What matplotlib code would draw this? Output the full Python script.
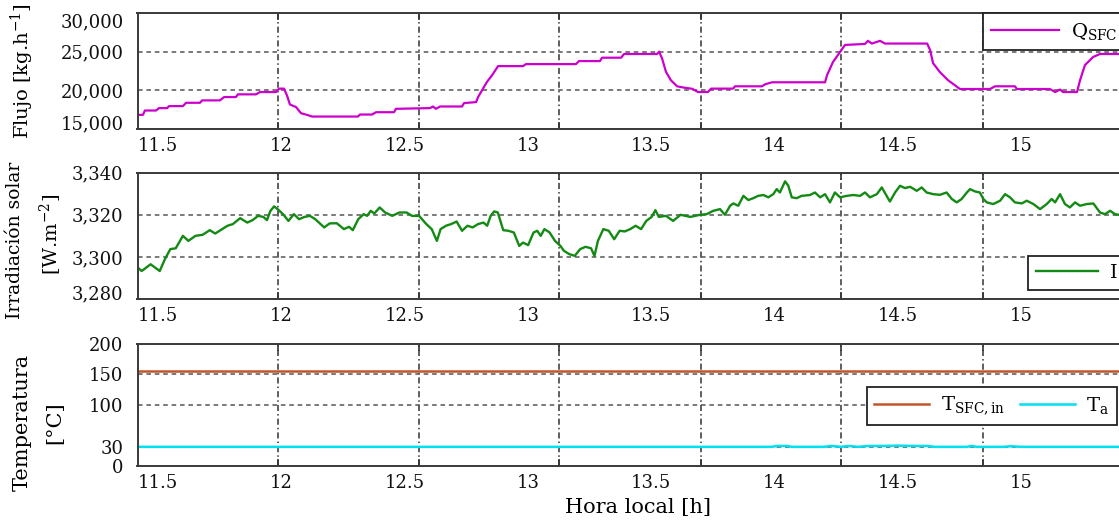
import matplotlib.pyplot as plt
from matplotlib.ticker import FixedLocator, FixedFormatter, NullFormatter
from matplotlib.transforms import ScaledTranslation

plt.rcParams['font.family'] = 'DejaVu Serif'
plt.rcParams['mathtext.fontset'] = 'dejavuserif'

# ==========================
# DATOS
# ==========================

# Flujo del campo solar Q_SFC [kg/h]
q_hora = [11.415, 11.439, 11.447, 11.492, 11.504, 11.537, 11.545, 11.601, 11.614, 11.670,
          11.679, 11.751, 11.768, 11.816, 11.824, 11.897, 11.914, 11.979, 11.991, 12.011,
          12.023, 12.035, 12.060, 12.080, 12.104, 12.125, 12.311, 12.319, 12.368, 12.384,
          12.457, 12.465, 12.603, 12.615, 12.627, 12.644, 12.733, 12.741, 12.790, 12.798,
          12.814, 12.834, 12.855, 12.879, 12.980, 12.992, 13.195, 13.207, 13.292, 13.301,
          13.378, 13.390, 13.524, 13.532, 13.544, 13.560, 13.580, 13.605, 13.633, 13.666,
          13.690, 13.730, 13.743, 13.832, 13.840, 13.949, 13.962, 13.990, 14.205, 14.213,
          14.237, 14.266, 14.286, 14.367, 14.379, 14.395, 14.428, 14.448, 14.619, 14.631,
          14.643, 14.671, 14.704, 14.732, 14.752, 14.874, 14.894, 14.975, 14.983, 15.117,
          15.138, 15.158, 15.170, 15.227, 15.239, 15.259, 15.292, 15.320, 15.421]
q_flujo = [16830, 16830, 17390, 17390, 17700, 17700, 17960, 17960, 18390, 18390,
           18700, 18700, 19130, 19130, 19480, 19480, 19780, 19780, 20220, 20220,
           19350, 18170, 17830, 17040, 16830, 16610, 16610, 16870, 16870, 17170,
           17170, 17610, 17700, 17910, 17610, 17910, 17910, 18350, 18480, 19130,
           20000, 21090, 21960, 23130, 23130, 23390, 23390, 23780, 23780, 24220,
           24220, 24700, 24700, 25000, 24130, 22390, 21300, 20520, 20350, 20200,
           19780, 19780, 20220, 20220, 20520, 20520, 20780, 21040, 21040, 21950,
           23650, 24960, 25870, 26000, 26400, 26050, 26400, 26050, 26050, 25220,
           23520, 22350, 21300, 20650, 20170, 20170, 20520, 20520, 20170, 20170,
           19780, 20100, 19780, 19780, 21300, 23260, 24310, 24700, 24700]

# Irradiacion solar I [W/m2]
i_hora = [11.415, 11.434, 11.470, 11.485, 11.507, 11.528, 11.550, 11.572, 11.601, 11.623,
          11.652, 11.681, 11.710, 11.732, 11.760, 11.782, 11.804, 11.833, 11.862, 11.884,
          11.906, 11.927, 11.942, 11.956, 11.971, 11.985, 12.007, 12.029, 12.051, 12.072,
          12.094, 12.116, 12.138, 12.174, 12.196, 12.225, 12.254, 12.275, 12.290, 12.312,
          12.334, 12.348, 12.363, 12.377, 12.399, 12.421, 12.450, 12.479, 12.508, 12.530,
          12.559, 12.588, 12.610, 12.631, 12.646, 12.668, 12.689, 12.711, 12.733, 12.755,
          12.776, 12.798, 12.820, 12.835, 12.849, 12.863, 12.878, 12.900, 12.921, 12.943,
          12.965, 12.980, 13.001, 13.023, 13.038, 13.052, 13.067, 13.088, 13.110, 13.132,
          13.146, 13.168, 13.190, 13.212, 13.234, 13.256, 13.270, 13.284, 13.306, 13.328,
          13.350, 13.372, 13.393, 13.415, 13.437, 13.459, 13.480, 13.502, 13.517, 13.531,
          13.560, 13.589, 13.619, 13.659,
          13.698, 13.725, 13.752, 13.779, 13.799, 13.820, 13.833, 13.853, 13.874, 13.894,
          13.914, 13.934, 13.955, 13.975, 13.995, 14.009, 14.022, 14.043, 14.056, 14.070,
          14.090, 14.110, 14.144, 14.164, 14.185, 14.205, 14.225, 14.245, 14.266, 14.293,
          14.320, 14.347, 14.367, 14.387, 14.415, 14.435, 14.455, 14.468, 14.489, 14.509,
          14.529, 14.550, 14.577, 14.597, 14.617, 14.644, 14.671, 14.698, 14.719, 14.739,
          14.759, 14.780, 14.793, 14.813, 14.833, 14.847, 14.861, 14.887, 14.915, 14.935,
          14.955, 14.975, 15.003, 15.023, 15.050, 15.077, 15.104, 15.124, 15.138, 15.158,
          15.178, 15.198, 15.219, 15.239, 15.266, 15.293, 15.320, 15.340, 15.361, 15.381,
          15.421]
i_irr = [3295.2, 3293.3, 3296.5, 3295.2, 3293.3, 3298.9, 3303.7, 3304.1, 3310.0, 3307.6,
         3310.0, 3310.5, 3312.7, 3311.1, 3313.2, 3314.8, 3315.6, 3318.4, 3316.3, 3317.5,
         3319.5, 3319.0, 3317.5, 3321.9, 3324.0, 3322.7, 3320.3, 3317.1, 3320.3, 3317.9,
         3319.0, 3319.5, 3317.9, 3314.0, 3315.9, 3316.0, 3313.2, 3314.3, 3312.7, 3317.9,
         3320.3, 3319.5, 3321.9, 3320.6, 3323.5, 3321.1, 3319.5, 3321.1, 3321.1, 3319.5,
         3319.5, 3315.6, 3313.2, 3307.6, 3313.2, 3314.8, 3315.6, 3316.8, 3312.4, 3314.8,
         3314.0, 3315.6, 3316.3, 3314.8, 3319.5, 3321.6, 3321.1, 3312.7, 3312.4, 3311.6,
         3305.2, 3306.8, 3305.6, 3311.6, 3312.4, 3310.0, 3313.2, 3311.6, 3307.6, 3305.2,
         3302.9, 3301.3, 3300.5, 3303.7, 3304.8, 3304.1, 3300.5, 3307.6, 3313.2, 3312.4,
         3308.4, 3312.4, 3312.1, 3313.2, 3314.8, 3313.2, 3317.1, 3319.0, 3322.2, 3319.0,
         3319.5, 3317.1, 3320.0, 3319.0,
         3320.0, 3320.3, 3321.9, 3322.7, 3320.0, 3324.3, 3325.4, 3324.3, 3329.0, 3327.0,
         3327.9, 3329.0, 3329.4, 3328.3, 3329.8, 3332.2, 3330.6, 3335.9, 3333.8, 3328.3,
         3327.9, 3329.0, 3329.4, 3330.6, 3328.3, 3329.8, 3325.9, 3330.6, 3328.3, 3329.0,
         3329.4, 3329.0, 3330.6, 3328.3, 3329.8, 3333.0, 3329.0, 3326.3, 3330.6, 3333.8,
         3332.7, 3333.3, 3331.4, 3333.0, 3330.6, 3329.8, 3329.5, 3330.6, 3327.5, 3325.9,
         3327.5, 3330.6, 3332.2, 3331.1, 3330.6, 3327.5, 3325.9, 3325.1, 3326.7, 3329.8,
         3328.3, 3325.9, 3325.4, 3326.7, 3325.1, 3322.7, 3325.1, 3327.5, 3325.9, 3329.8,
         3325.1, 3323.5, 3325.9, 3324.3, 3325.1, 3325.4, 3321.1, 3320.3, 3321.9, 3320.3,
         3319.5]

# Temperaturas [C]
tsfc_hora = [11.415, 12.5, 13.5, 14.5, 15.421]
tsfc_val = [156, 156, 156, 156, 156]
ta_hora = [11.415, 12.0, 12.5, 13.0, 13.5, 13.99, 14.01, 14.05, 14.07, 14.20, 14.23, 14.27,
           14.30, 14.34, 14.38, 14.44, 14.50, 14.56, 14.62, 14.65, 14.78, 14.80, 14.82,
           14.93, 14.96, 15.0, 15.421]
ta_val = [31, 31, 31, 31, 31, 31, 32.5, 32.5, 31, 31, 32.5, 31,
          32.5, 31, 32.5, 32.5, 33, 32.5, 32.5, 31, 31, 32.5, 31,
          31, 32, 31, 31]

# Ejes
hora_ticks = [11.5, 12, 12.5, 13, 13.5, 14, 14.5, 15]
hora_labels = ['11.5', '12', '12.5', '13', '13.5', '14', '14.5', '15']
rejilla_x = [11.985, 12.560, 13.127, 13.702, 14.270, 14.844]

q_ticks = [15000, 20000, 25000, 30000]
q_labels = ['15,000', '20,000', '25,000', '30,000']
i_ticks = [3280, 3300, 3320, 3340]
i_labels = ['3,280', '3,300', '3,320', '3,340']
t_ticks = [0, 30, 100, 150, 200]
t_labels = ['0', '30', '100', '150', '200']

# ==========================
# FIGURA
# ==========================

W, H = 1119, 523
fig = plt.figure(figsize=(W / 100, H / 100), dpi=100)


def caja(y_top, y_bot):
    return [137.5 / W, 1 - y_bot / H, (1125 - 137.5) / W, (y_bot - y_top) / H]


def formato(ax, yticks, ylabels, ylim):
    ax.set_xlim(11.4169, 15.4214)
    ax.set_ylim(*ylim)
    ax.set_axisbelow(True)

    ax.xaxis.set_major_locator(FixedLocator(rejilla_x))
    ax.xaxis.set_major_formatter(NullFormatter())
    ax.xaxis.set_minor_locator(FixedLocator(hora_ticks))
    ax.xaxis.set_minor_formatter(FixedFormatter(hora_labels))
    ax.tick_params(axis='x', which='major', direction='in', length=5,
                   width=1.2, color='#333333', top=True)
    ax.tick_params(axis='x', which='minor', length=0, labelsize=13, pad=6,
                   labelcolor='#111111')

    ax.set_yticks(yticks)
    ax.set_yticklabels(ylabels)
    ax.tick_params(axis='y', direction='in', length=0, labelsize=13, pad=10,
                   labelcolor='#111111')

    ax.xaxis.grid(True, which='major', color='#333333', lw=1.1,
                  linestyle=(0, (4, 2, 1, 2)))
    ax.yaxis.grid(True, color='#555555', lw=1.1, linestyle=(0, (3, 2.5)))

    for s in ax.spines.values():
        s.set_color('#3a3a3a')
        s.set_linewidth(1.4)


def leyenda(ax, loc, anchor, ncol=1, largo=3.0):
    leg = ax.legend(loc=loc, bbox_to_anchor=anchor, borderaxespad=0,
                    fancybox=False, edgecolor='#222222', framealpha=1,
                    fontsize=14, handlelength=largo, ncol=ncol,
                    columnspacing=0.8, handletextpad=0.6)
    leg.get_frame().set_linewidth(1.3)


def mover(label, dy):
    label.set_transform(label.get_transform() +
                        ScaledTranslation(0, dy / 72, fig.dpi_scale_trans))


# --- Flujo ---
ax1 = fig.add_axes(caja(13, 129))
ax1.plot(q_hora, q_flujo, color='#CC00CC', lw=1.6, label=r'Q$_{\mathrm{SFC}}$')
formato(ax1, q_ticks, q_labels, (15000, 30000))
leyenda(ax1, 'upper right', (1.0, 1.0), largo=3.5)

# --- Irradiacion ---
ax2 = fig.add_axes(caja(172.7, 299))
ax2.plot(i_hora, i_irr, color='#138A13', lw=1.7, label='I')
formato(ax2, i_ticks, i_labels, (3280, 3340))
leyenda(ax2, 'lower right', (1.0, 0.071), largo=3.2)

# --- Temperatura ---
ax3 = fig.add_axes(caja(344, 465.7))
ax3.plot(tsfc_hora, tsfc_val, color='#C0562B', lw=1.8, label=r'T$_{\mathrm{SFC,in}}$')
ax3.plot(ta_hora, ta_val, color='#00E0F0', lw=1.8, label=r'T$_{\mathrm{a}}$')
formato(ax3, t_ticks, t_labels, (0, 200))
leyenda(ax3, 'upper right', (0.9919, 0.6467), ncol=2, largo=2.8)

# etiquetas de los extremos un poco hacia dentro
fig.canvas.draw()
yl1 = ax1.get_yticklabels()
mover(yl1[0], 5)
mover(yl1[-1], -5)
yl2 = ax2.get_yticklabels()
mover(yl2[0], 5)

# ==========================
# TEXTOS
# ==========================

fig.text(22 / W, 1 - 71 / H, r'Flujo [kg.h$^{-1}$]', rotation=90,
         ha='center', va='center', fontsize=14)
fig.text(15 / W, 1 - 240 / H, 'Irradiación solar', rotation=90,
         ha='center', va='center', fontsize=13.5)
fig.text(51 / W, 1 - 234 / H, r'[W.m$^{-2}$]', rotation=90,
         ha='center', va='center', fontsize=14)
fig.text(22 / W, 1 - 422 / H, 'Temperatura', rotation=90,
         ha='center', va='center', fontsize=15)
fig.text(55 / W, 1 - 423 / H, '[°C]', rotation=90,
         ha='center', va='center', fontsize=15)
fig.text(638 / W, 1 - 508 / H, 'Hora local [h]', ha='center', va='center',
         fontsize=15)

fig.savefig('out.png', dpi=100)
